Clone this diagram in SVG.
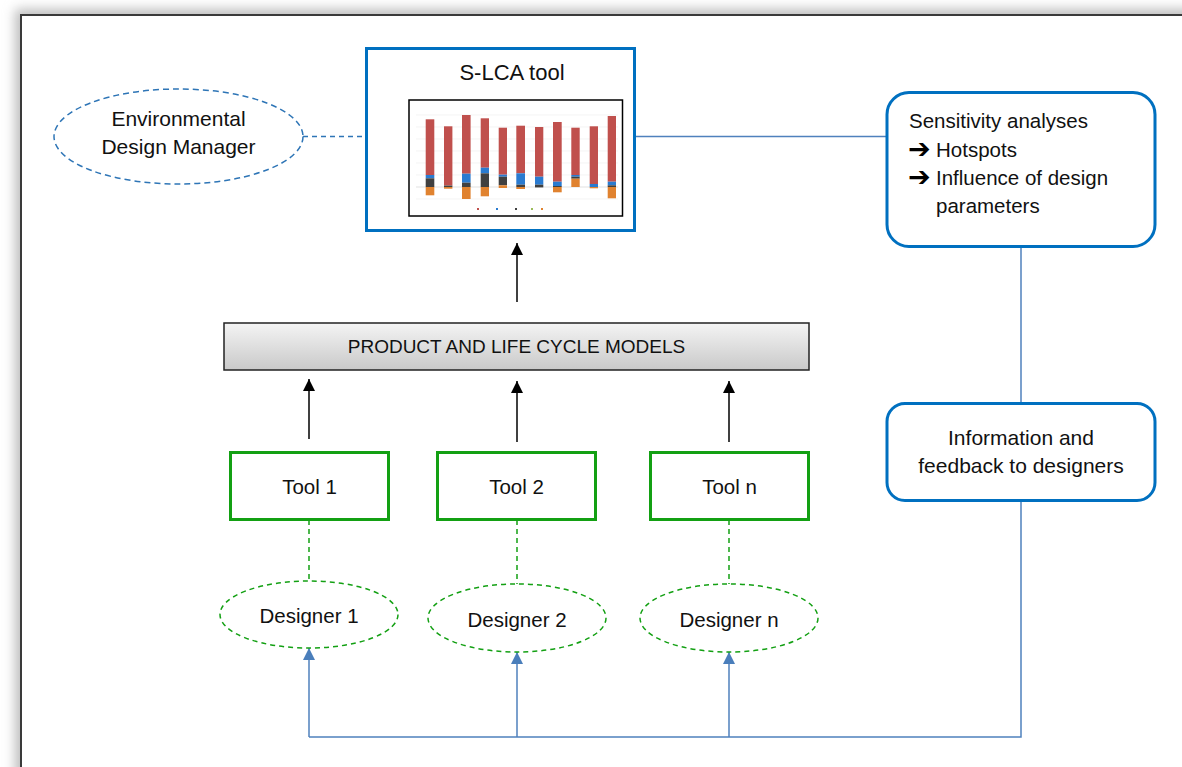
<svg xmlns="http://www.w3.org/2000/svg" width="1182" height="767" viewBox="0 0 1182 767">
<style>
  .t { font-family: "Liberation Sans", Arial, sans-serif; fill: #111; }
  .arr { font-family: "DejaVu Sans", sans-serif; font-weight: bold; fill: #000; }
  .blueBox { fill: #fff; stroke: #0070C0; stroke-width: 3; }
  .greenBox { fill: #fff; stroke: #13A013; stroke-width: 3; }
  .greenEll { fill: #fff; stroke: #13A013; stroke-width: 1.5; stroke-dasharray: 5 4; }
  .blueEll { fill: #fff; stroke: #2E75B6; stroke-width: 1.5; stroke-dasharray: 6 4; }
  .blk { stroke: #000; stroke-width: 1.5; fill: none; }
  .fb { stroke: #4F81BD; stroke-width: 1.5; fill: none; }
  .gdash { stroke: #13A013; stroke-width: 1.5; stroke-dasharray: 5 4; fill: none; }
  .bdash { stroke: #2E75B6; stroke-width: 1.5; stroke-dasharray: 5 4; fill: none; }
  .r { fill: #C0504D; } .b { fill: #2A7BD0; } .d { fill: #404040; } .o { fill: #E0822F; } .g { fill: #A8A8A8; }
</style>
<defs>
  <filter id="sh" x="-5%" y="-5%" width="110%" height="110%">
    <feGaussianBlur stdDeviation="6"/>
  </filter>
  <linearGradient id="pg" x1="0" y1="0" x2="0" y2="1">
    <stop offset="0" stop-color="#F4F4F4"/>
    <stop offset="1" stop-color="#C9C9C9"/>
  </linearGradient>
  <marker id="ak" viewBox="0 0 12 12" refX="12" refY="6" markerWidth="12" markerHeight="12" markerUnits="userSpaceOnUse" orient="auto">
    <path d="M0,0 L12,6 L0,12 z" fill="#000"/>
  </marker>
  <marker id="ab" viewBox="0 0 12 12" refX="12" refY="6" markerWidth="12" markerHeight="12" markerUnits="userSpaceOnUse" orient="auto">
    <path d="M0,0 L12,6 L0,12 z" fill="#4A7EBB"/>
  </marker>
</defs>

<rect x="0" y="0" width="1182" height="767" fill="#fff"/>
<rect x="15" y="9" width="1200" height="800" fill="#bdbdbd" filter="url(#sh)"/>
<rect x="21" y="15" width="1200" height="800" fill="#fff" stroke="#3A3A3A" stroke-width="2"/>

<g id="connectors">
  <line class="bdash" x1="303" y1="136.5" x2="366" y2="136.5"/>
  <line class="fb" x1="635" y1="136.5" x2="886" y2="136.5"/>
  <line class="fb" x1="1021" y1="247" x2="1021" y2="403"/>
  <polyline class="fb" points="1021,501 1021,737 309,737"/>
  <line class="fb" x1="309" y1="737" x2="309" y2="648" marker-end="url(#ab)"/>
  <line class="fb" x1="517" y1="737" x2="517" y2="652" marker-end="url(#ab)"/>
  <line class="fb" x1="729" y1="737" x2="729" y2="652" marker-end="url(#ab)"/>
  <line class="blk" x1="517" y1="302" x2="517" y2="243" marker-end="url(#ak)"/>
  <line class="blk" x1="309" y1="439" x2="309" y2="379" marker-end="url(#ak)"/>
  <line class="blk" x1="517" y1="442" x2="517" y2="381" marker-end="url(#ak)"/>
  <line class="blk" x1="729" y1="442" x2="729" y2="381" marker-end="url(#ak)"/>
  <line class="gdash" x1="309" y1="520" x2="309" y2="581"/>
  <line class="gdash" x1="517" y1="520" x2="517" y2="584"/>
  <line class="gdash" x1="729" y1="520" x2="729" y2="584"/>
</g>

<g id="edm">
  <ellipse class="blueEll" cx="178.5" cy="136.5" rx="124.5" ry="47.5"/>
  <text class="t" x="178.5" y="126" font-size="21" text-anchor="middle">Environmental</text>
  <text class="t" x="178.5" y="154" font-size="21" text-anchor="middle">Design Manager</text>
</g>

<g id="slca">
  <rect class="blueBox" x="366.5" y="48.5" width="268" height="182"/>
  <text class="t" x="512" y="80" font-size="22" text-anchor="middle">S-LCA tool</text>
  <g id="chart">
    <rect x="409" y="100" width="213.5" height="116" fill="#fff" stroke="#000" stroke-width="1.5"/>
    <g stroke="#ececec" stroke-width="0.6">
      <line x1="416" y1="115" x2="618" y2="115"/>
      <line x1="416" y1="127" x2="618" y2="127"/>
      <line x1="416" y1="139" x2="618" y2="139"/>
      <line x1="416" y1="151" x2="618" y2="151"/>
      <line x1="416" y1="163" x2="618" y2="163"/>
      <line x1="416" y1="175" x2="618" y2="175"/>
      <line x1="416" y1="199" x2="618" y2="199"/>
    </g>
    <line x1="416" y1="187" x2="618" y2="187" stroke="#cfcfcf" stroke-width="0.6"/>
    <rect class="r" x="425.7" y="119.3" width="8.6" height="55.7"/><rect class="b" x="425.7" y="175" width="8.6" height="3.3"/><rect class="d" x="425.7" y="178.3" width="8.6" height="8.7"/><rect class="o" x="425.7" y="187" width="8.6" height="8.3"/>
    <rect class="r" x="444" y="126.3" width="8.4" height="59.3"/><rect class="d" x="444" y="185.6" width="8.4" height="1.4"/><rect class="o" x="444" y="187" width="8.4" height="1.7"/>
    <rect class="r" x="462" y="115" width="8.6" height="58.7"/><rect class="b" x="462" y="173.7" width="8.6" height="9"/><rect class="d" x="462" y="182.7" width="8.6" height="4.3"/><rect class="o" x="462" y="187" width="8.6" height="12"/>
    <rect class="r" x="480.7" y="118.3" width="8.3" height="49.4"/><rect class="b" x="480.7" y="167.7" width="8.3" height="5.6"/><rect class="d" x="480.7" y="173.3" width="8.3" height="13.7"/><rect class="o" x="480.7" y="187" width="8.3" height="9.3"/>
    <rect class="r" x="498.7" y="127.7" width="8.3" height="47"/><rect class="b" x="498.7" y="174.7" width="8.3" height="2"/><rect class="d" x="498.7" y="176.7" width="8.3" height="8.6"/><rect class="o" x="498.7" y="185.3" width="8.3" height="2.7"/>
    <rect class="r" x="516.3" y="125.7" width="8.7" height="47.6"/><rect class="b" x="516.3" y="173.3" width="8.7" height="11.4"/><rect class="d" x="516.3" y="184.7" width="8.7" height="2.3"/><rect class="o" x="516.3" y="187" width="8.7" height="2"/>
    <rect class="r" x="535" y="127" width="8.3" height="49.7"/><rect class="b" x="535" y="176.7" width="8.3" height="8"/><rect class="d" x="535" y="184.7" width="8.3" height="2.3"/><rect class="g" x="535" y="187" width="8.3" height="1"/>
    <rect class="r" x="553" y="122" width="8.7" height="59.7"/><rect class="b" x="553" y="181.7" width="8.7" height="4.3"/><rect class="d" x="553" y="186" width="8.7" height="1"/><rect class="o" x="553" y="187" width="8.7" height="5.3"/>
    <rect class="r" x="571.3" y="127.7" width="8.4" height="47.3"/><rect class="b" x="571.3" y="175" width="8.4" height="1.7"/><rect class="d" x="571.3" y="176.7" width="8.4" height="2"/><rect class="o" x="571.3" y="178.7" width="8.4" height="8.3"/>
    <rect class="r" x="589.7" y="126.3" width="8.3" height="57.7"/><rect class="b" x="589.7" y="184" width="8.3" height="3"/><rect class="o" x="589.7" y="187" width="8.3" height="1.3"/>
    <rect class="r" x="607.7" y="116" width="8.3" height="65.7"/><rect class="b" x="607.7" y="181.7" width="8.3" height="3.6"/><rect class="d" x="607.7" y="185.3" width="8.3" height="1.7"/><rect class="o" x="607.7" y="187" width="8.3" height="11.3"/>
    <rect class="r" x="477" y="208" width="2" height="2"/>
    <rect class="b" x="496" y="208" width="2" height="2"/>
    <rect class="d" x="515" y="208" width="2" height="2"/>
    <rect x="531" y="208" width="2" height="2" fill="#9BBB59"/>
    <rect class="o" x="541" y="208" width="2" height="2"/>
  </g>
</g>

<g id="sensitivity">
  <rect class="blueBox" x="887" y="92.5" width="268" height="154" rx="22" ry="22"/>
  <text class="t" x="909" y="128" font-size="20.5">Sensitivity analyses</text>
  <text class="arr" x="908" y="158" font-size="27">➔</text>
  <text class="t" x="936" y="157" font-size="20.5">Hotspots</text>
  <text class="arr" x="908" y="186" font-size="27">➔</text>
  <text class="t" x="936" y="185" font-size="20.5">Influence of design</text>
  <text class="t" x="936" y="213" font-size="20.5">parameters</text>
</g>

<g id="info">
  <rect class="blueBox" x="887" y="403.5" width="268" height="97" rx="18" ry="18"/>
  <text class="t" x="1021" y="445" font-size="21" text-anchor="middle">Information and</text>
  <text class="t" x="1021" y="473" font-size="21" text-anchor="middle">feedback to designers</text>
</g>

<g id="models">
  <rect x="224" y="323" width="585" height="47" fill="url(#pg)" stroke="#222" stroke-width="1.5"/>
  <text class="t" x="516.5" y="353" font-size="19" text-anchor="middle">PRODUCT AND LIFE CYCLE MODELS</text>
</g>

<g id="tool1">
  <rect class="greenBox" x="230.5" y="452.5" width="158" height="67"/>
  <text class="t" x="309.5" y="494" font-size="20.5" text-anchor="middle">Tool 1</text>
</g>
<g id="tool2">
  <rect class="greenBox" x="437.5" y="452.5" width="158" height="67"/>
  <text class="t" x="516.5" y="494" font-size="20.5" text-anchor="middle">Tool 2</text>
</g>
<g id="tooln">
  <rect class="greenBox" x="650.5" y="452.5" width="158" height="67"/>
  <text class="t" x="729.5" y="494" font-size="20.5" text-anchor="middle">Tool n</text>
</g>

<g id="designer1">
  <ellipse class="greenEll" cx="309" cy="614.5" rx="89" ry="33.5"/>
  <text class="t" x="309" y="623" font-size="20.5" text-anchor="middle">Designer 1</text>
</g>
<g id="designer2">
  <ellipse class="greenEll" cx="517" cy="618" rx="89" ry="34"/>
  <text class="t" x="517" y="627" font-size="20.5" text-anchor="middle">Designer 2</text>
</g>
<g id="designern">
  <ellipse class="greenEll" cx="729" cy="618" rx="89" ry="34"/>
  <text class="t" x="729" y="627" font-size="20.5" text-anchor="middle">Designer n</text>
</g>
</svg>
